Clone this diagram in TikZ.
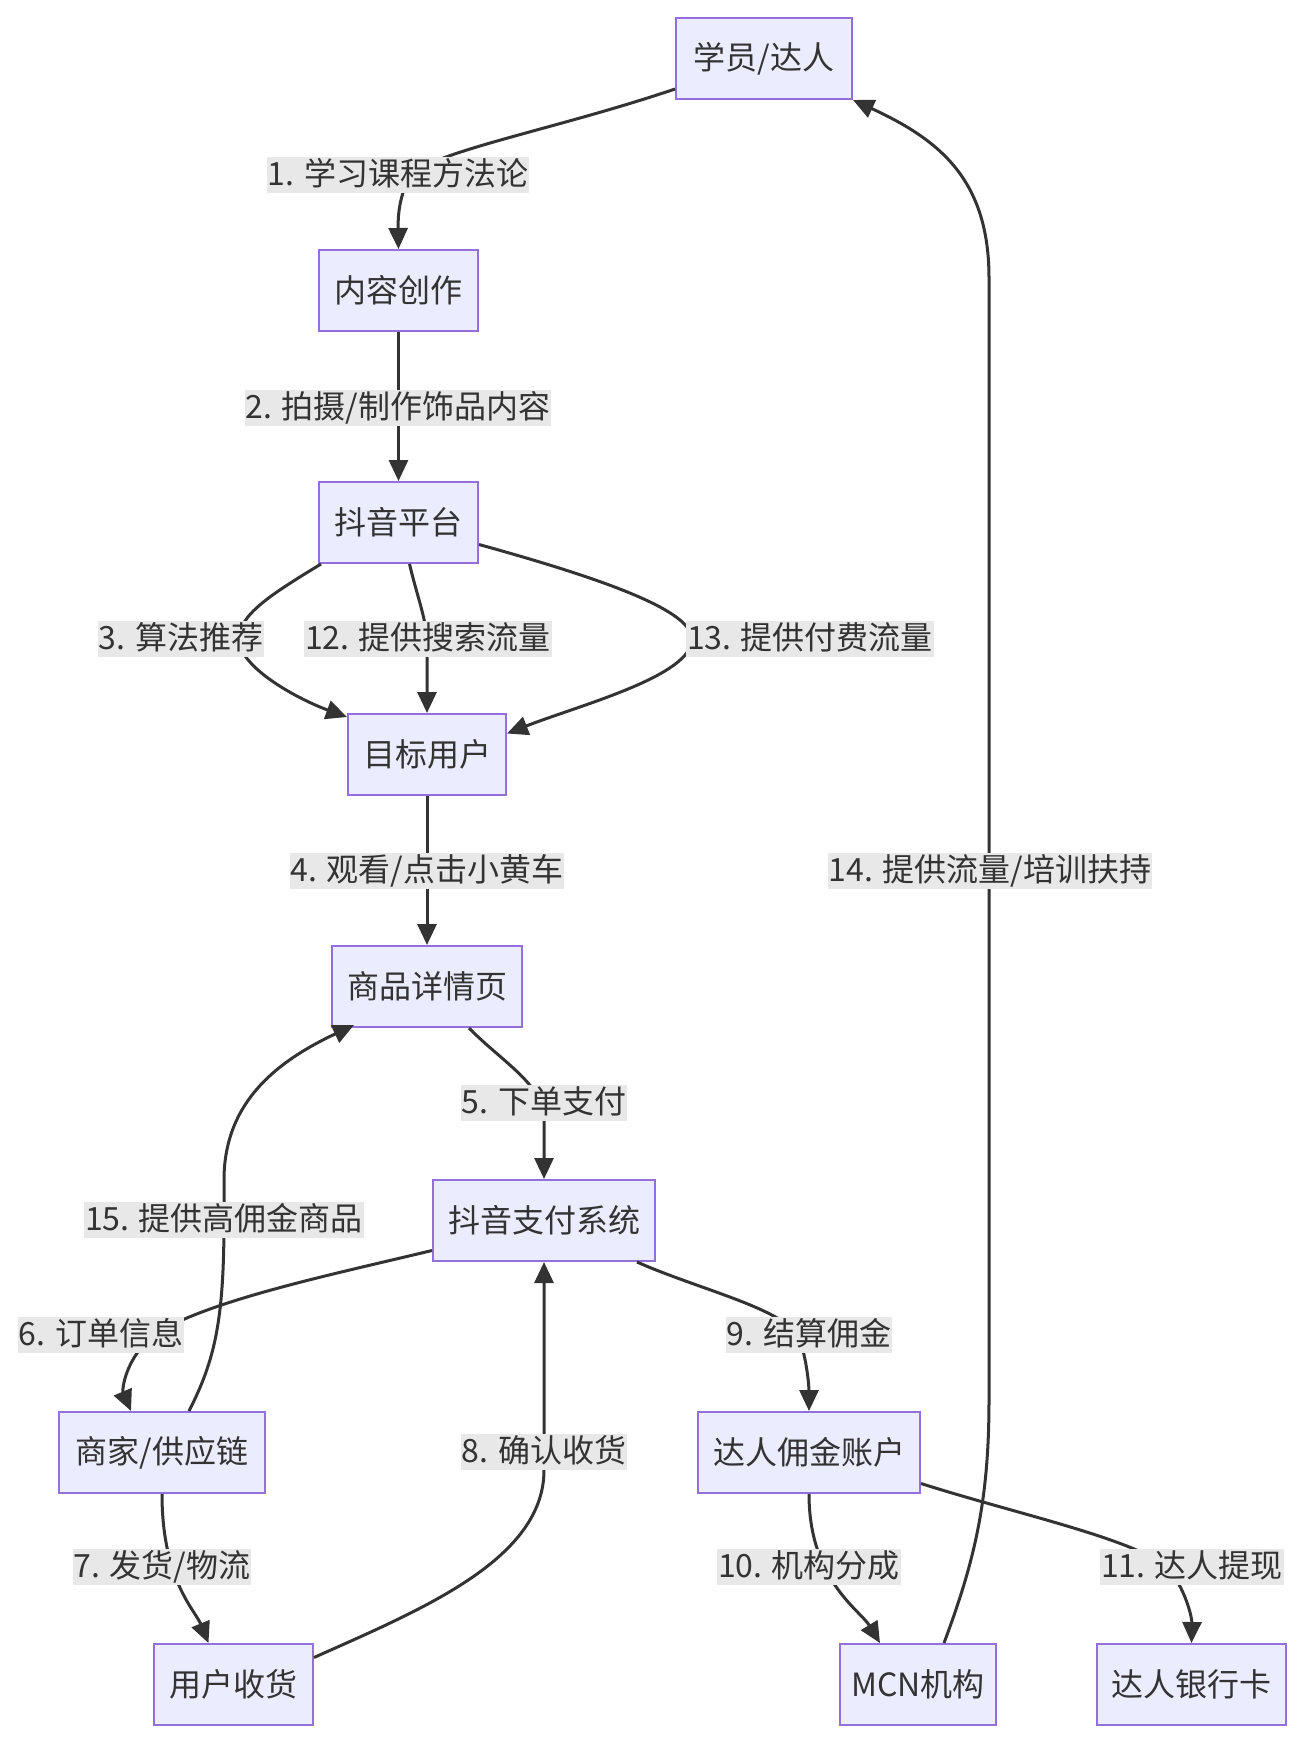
\documentclass[tikz,border=0pt]{standalone}
\usepackage{fontspec}
\setmainfont{Noto Sans CJK SC}
\usetikzlibrary{arrows.meta,calc}
\definecolor{nodefill}{HTML}{ECECFF}
\definecolor{nodeborder}{HTML}{9370DB}
\definecolor{edgecol}{HTML}{333333}
\definecolor{lblbg}{HTML}{E8E8E8}
\begin{document}
\begin{tikzpicture}[x=1pt,y=-1pt,
  box/.style={draw=nodeborder, fill=nodefill, line width=2pt, minimum height=81pt, inner sep=0pt, text=edgecol, font=\fontsize{32}{37}\selectfont},
  lbl/.style={fill=lblbg, inner xsep=1pt, inner ysep=2pt, text height=26pt, text depth=6pt, text=edgecol, font=\fontsize{32}{37}\selectfont},
  edge/.style={draw=edgecol, line width=3pt, -{Triangle[length=21pt,width=19pt]}}]
\useasboundingbox (0,0) rectangle (1304,1742);
% nodes
\node[box, minimum width=176pt] (A) at (764,58.5) {学员/达人};
\node[box, minimum width=159pt] (B) at (398.5,290.5) {内容创作};
\node[box, minimum width=159pt] (C) at (398.5,522.5) {抖音平台};
\node[box, minimum width=158pt] (D) at (427,754.5) {目标用户};
\node[box, minimum width=190pt] (E) at (427,986.5) {商品详情页};
\node[box, minimum width=222pt] (F) at (544,1220.5) {抖音支付系统};
\node[box, minimum width=206pt] (G) at (162,1452.5) {商家/供应链};
\node[box, minimum width=222pt] (H) at (809,1452.5) {达人佣金账户};
\node[box, minimum width=159pt] (I) at (233.5,1684.5) {用户收货};
\node[box, minimum width=156pt] (J) at (918,1684.5) {MCN机构};
\node[box, minimum width=189pt] (K) at (1191.5,1684.5) {达人银行卡};
% edges
\draw[edge] ($(A.south west)+(0,-11)$) .. controls (560,128) and (440,150) .. (412,174) .. controls (398,195) and (398,220) .. (B.north);
\draw[edge] (B.south) -- (C.north);
\draw[edge] ($(C.south west)+(3,0)$) .. controls (270,595) and (239,615) .. (239,639) .. controls (239,668) and (300,700) .. ($(D.north west)+(0,4)$);
\draw[edge] ($(C.south)+(11,0)$) .. controls (418,600) and (427,620) .. (427,645) -- (D.north);
\draw[edge] ($(C.east)+(0,22)$) .. controls (600,578) and (692,610) .. (692,639) .. controls (692,676) and (580,705) .. ($(D.east)+(0,-21)$);
\draw[edge] (D.south) -- (E.north);
\draw[edge] ($(E.south east)+(-54,0)$) .. controls (500,1060) and (544,1085) .. (544,1118) -- (F.north);
\draw[edge] ($(G.north)+(27,0)$) .. controls (215,1360) and (224,1320) .. (224,1220) -- (224,1180) .. controls (224,1100) and (280,1060) .. ($(E.south west)+(23,-3)$);
\draw[edge] ($(F.west)+(0,30)$) .. controls (330,1275) and (210,1300) .. (155,1334) .. controls (125,1358) and (122,1390) .. ($(G.north)+(-31,0)$);
\draw[edge] ($(F.south east)+(-19,0)$) .. controls (700,1290) and (790,1310) .. (800,1340) .. controls (808,1365) and (809,1390) .. (H.north);
\draw[edge] ($(I.east)+(0,-27)$) .. controls (420,1610) and (544,1560) .. (544,1470) -- (F.south);
\draw[edge] (G.south) .. controls (162,1580) and (195,1610) .. ($(I.north)+(-25,0)$);
\draw[edge] (H.south) .. controls (809,1580) and (860,1610) .. ($(J.north)+(-38,0)$);
\draw[edge] ($(H.east)+(0,31)$) .. controls (1020,1515) and (1140,1540) .. (1170,1570) .. controls (1188,1595) and (1192,1620) .. (K.north);
\draw[edge] ($(J.north)+(26,0)$) .. controls (975,1560) and (989,1500) .. (989,1400) -- (989,278) .. controls (989,180) and (940,140) .. (A.south east);
% labels
\node[lbl] (l1) at (398,175) {1. 学习课程方法论};
\node[lbl] (l2) at (398,408) {2. 拍摄/制作饰品内容};
\node[lbl] (l3) at (181,639) {3. 算法推荐};
\node[lbl] (l12) at (428,639) {12. 提供搜索流量};
\node[lbl] (l13) at (810,639) {13. 提供付费流量};
\node[lbl] (l4) at (427,871) {4. 观看/点击小黄车};
\node[lbl] (l14) at (990,871) {14. 提供流量/培训扶持};
\node[lbl] (l5) at (544,1103) {5. 下单支付};
\node[lbl] (l15) at (224,1220) {15. 提供高佣金商品};
\node[lbl] (l6) at (101,1335) {6. 订单信息};
\node[lbl] (l9) at (809,1335) {9. 结算佣金};
\node[lbl] (l8) at (544,1452) {8. 确认收货};
\node[lbl] (l7) at (162,1567) {7. 发货/物流};
\node[lbl] (l10) at (809,1567) {10. 机构分成};
\node[lbl] (l11) at (1192,1567) {11. 达人提现};
\end{tikzpicture}
\end{document}
